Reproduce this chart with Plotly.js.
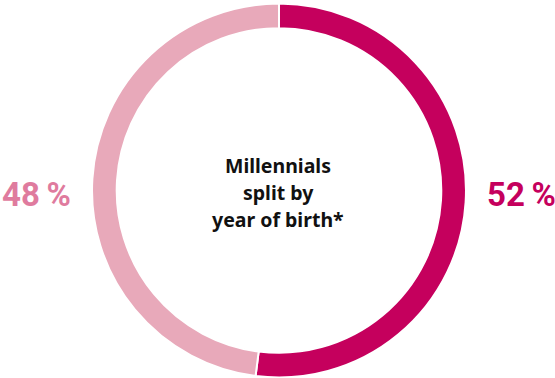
<!DOCTYPE html>
<html>
<head>
<meta charset="utf-8">
<script src="https://cdn.plot.ly/plotly-3.0.1.min.js"></script>
<style>html,body{margin:0;padding:0;background:#fff;}#chart{width:555px;height:378px;}</style>
</head>
<body>
<div id="chart"></div>
<script>
const categories = ["Older millennials", "Younger millennials"];
const values = [52, 48];
const valueLabels = ["52\u2009%", "48\u2009%"];
const sliceColors = ["#c5005d", "#e8a9ba"];
const labelColors = ["#c5005d", "#df7b9e"];
const centerLines = ["Millennials", "split by", "year of birth*"];

const trace = {
  type: "pie",
  labels: categories,
  values: values,
  hole: 0.868,
  sort: false,
  direction: "clockwise",
  rotation: 0,
  textinfo: "none",
  hoverinfo: "none",
  marker: { colors: sliceColors, line: { color: "#ffffff", width: 2 } },
  domain: { x: [0.1658, 0.8396], y: [0.0013, 0.9907] },
  showlegend: false
};

const annotations = [
  { text: "<b>" + valueLabels[1] + "</b>", x: 36, y: 194, font: { color: labelColors[1] } },
  { text: "<b>" + valueLabels[0] + "</b>", x: 521, y: 194, font: { color: labelColors[0] } }
].map(a => ({
  text: a.text, xref: "paper", yref: "paper",
  x: a.x / 555, y: 1 - a.y / 378, xanchor: "center", yanchor: "middle",
  showarrow: false,
  font: Object.assign({ family: "Roboto, 'Noto Sans', sans-serif", size: 33 }, a.font)
}));

const lineY = [165, 192, 219];
centerLines.forEach((t, i) => {
  annotations.push({
    text: "<b>" + t + "</b>", xref: "paper", yref: "paper",
    x: 278 / 555, y: 1 - lineY[i] / 378, xanchor: "center", yanchor: "middle",
    showarrow: false,
    font: { family: "'Noto Sans', Roboto, sans-serif", size: 19.5, color: "#111111" }
  });
});

const layout = {
  width: 555, height: 378,
  margin: { l: 0, r: 0, t: 0, b: 0 },
  paper_bgcolor: "#ffffff",
  plot_bgcolor: "#ffffff",
  annotations: annotations,
  showlegend: false
};

Plotly.newPlot("chart", [trace], layout, { displayModeBar: false, staticPlot: true });
</script>
</body>
</html>
